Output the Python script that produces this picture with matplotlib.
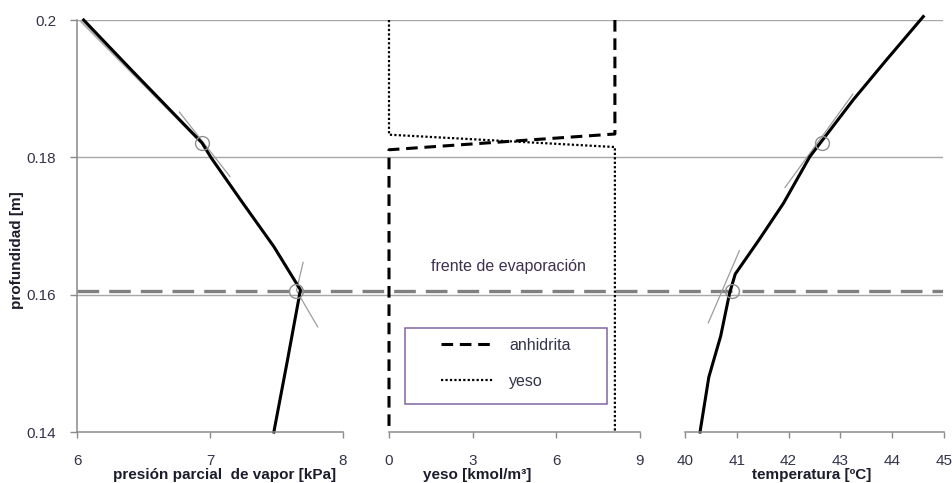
import matplotlib.pyplot as plt
from matplotlib.patches import Rectangle

plt.rcParams['font.family'] = ['Liberation Sans', 'DejaVu Sans']

# eje de profundidad comun
depth_ticks = [0.14, 0.16, 0.18, 0.20]
depth_labels = ['0.14', '0.16', '0.18', '0.2']
grid_levels = [0.16, 0.18, 0.20]
frente = 0.1606

# presion parcial de vapor [kPa]
pv_depth = [0.200, 0.1927, 0.1871, 0.1821, 0.1799, 0.1738, 0.1670, 0.1607, 0.1502, 0.140]
pv_kpa = [6.05, 6.41, 6.69, 6.94, 7.01, 7.23, 7.48, 7.68, 7.58, 7.48]
pv_circ_kpa = [6.94, 7.65]
pv_circ_depth = [0.1821, 0.1606]
pv_tan_a_kpa = [6.02, 6.90]
pv_tan_a_depth = [0.200, 0.1828]
pv_tan_b_kpa = [6.77, 7.15]
pv_tan_b_depth = [0.1866, 0.1772]
pv_tan_c_kpa = [7.70, 7.65, 7.81]
pv_tan_c_depth = [0.1647, 0.1606, 0.1553]

# yeso / anhidrita [kmol/m3]
anh_kmol = [8.1, 8.1, 0.0, 0.0]
anh_depth = [0.200, 0.1834, 0.1811, 0.140]
yeso_kmol = [0.0, 0.0, 8.1, 8.1]
yeso_depth = [0.200, 0.1833, 0.1815, 0.140]

# temperatura [ºC]
t_depth = [0.140, 0.148, 0.154, 0.1602, 0.163, 0.168, 0.1733, 0.1801, 0.1884, 0.1942, 0.2005]
t_c = [40.29, 40.46, 40.69, 40.86, 40.97, 41.43, 41.90, 42.41, 43.25, 43.89, 44.60]
t_circ_c = [42.64, 40.90]
t_circ_depth = [0.1821, 0.1606]
t_tan_a_c = [43.24, 41.93]
t_tan_a_depth = [0.1892, 0.1756]
t_tan_b_c = [41.05, 40.45]
t_tan_b_depth = [0.1664, 0.1559]

txt = '#33334a'
lbl = '#1c1c2c'
axis_grey = '#8a8a8a'
grid_grey = '#a8a8a8'
tan_grey = '#9c9c9c'

fig = plt.figure(figsize=(9.53, 4.83), dpi=100)
W, H = 953, 483


def box(x0, x1):
    return [x0 / W, (H - 432) / H, (x1 - x0) / W, (432 - 20) / H]


# fondo: eje y, lineas de division y frente de evaporacion
bg = fig.add_axes(box(77, 943))
bg.set_ylim(0.14, 0.20)
bg.set_xlim(0, 1)
for s in ['top', 'right', 'bottom']:
    bg.spines[s].set_visible(False)
bg.spines['left'].set_color(axis_grey)
bg.spines['left'].set_linewidth(1.1)
bg.set_xticks([])
bg.set_yticks(depth_ticks)
bg.set_yticklabels(depth_labels)
bg.tick_params(axis='y', length=5, width=1, color=axis_grey, pad=10,
               labelsize=11, labelcolor=txt)
for g in grid_levels:
    bg.axhline(g, color=grid_grey, lw=1.0, zorder=1)
bg.axhline(frente, color='#808080', lw=2.4, dashes=(6.5, 3), zorder=2)


def panel(x0, x1, lim, ticks):
    ax = fig.add_axes(box(x0, x1))
    ax.patch.set_visible(False)
    ax.set_xlim(*lim)
    ax.set_ylim(0.14, 0.20)
    for s in ['top', 'right', 'left']:
        ax.spines[s].set_visible(False)
    ax.spines['bottom'].set_color(axis_grey)
    ax.spines['bottom'].set_linewidth(1.1)
    ax.set_yticks([])
    ax.set_xticks(ticks)
    ax.tick_params(axis='x', length=4, width=1, color=axis_grey, pad=12,
                   labelsize=11, labelcolor=txt)
    return ax


ax1 = panel(77, 343, (6, 8), [6, 7, 8])
ax2 = panel(389, 640, (0, 9), [0, 3, 6, 9])
ax3 = panel(685, 944, (40, 45), [40, 41, 42, 43, 44, 45])

# presion de vapor
ax1.plot(pv_tan_a_kpa, pv_tan_a_depth, color='#b0b0b0', lw=1.6)
ax1.plot(pv_tan_b_kpa, pv_tan_b_depth, color=tan_grey, lw=0.9)
ax1.plot(pv_tan_c_kpa, pv_tan_c_depth, color=tan_grey, lw=0.9)
ax1.plot(pv_kpa, pv_depth, color='black', lw=2.2, clip_on=False)
ax1.plot(pv_circ_kpa, pv_circ_depth, 'o', ms=10, mfc='none', mec='#909090', mew=1)

# yeso y anhidrita
ax2.plot(anh_kmol, anh_depth, color='black', lw=2.2, dashes=(3.8, 2.2),
         label='anhidrita', clip_on=False)
ax2.plot(yeso_kmol, yeso_depth, color='black', lw=1.6, dashes=(1, 1),
         label='yeso', clip_on=False)
ax2.text(4.3, 0.1641, 'frente de evaporación', ha='center', va='center',
         fontsize=11.5, color='#3d3050')
leg = ax2.legend(loc='upper left', bbox_to_anchor=(441 / W, 1 - 338 / H),
                 bbox_transform=fig.transFigure, frameon=False, borderpad=0,
                 borderaxespad=0, handlelength=3.3, handletextpad=0.95,
                 labelspacing=1.3, fontsize=11.5)
for t in leg.get_texts():
    t.set_color(txt)
fig.patches.append(Rectangle((405 / W, 1 - 404 / H), 202 / W, 76 / H,
                             transform=fig.transFigure, fill=False,
                             edgecolor='#8064a2', lw=1.1))

# temperatura
ax3.plot(t_tan_a_c, t_tan_a_depth, color=tan_grey, lw=0.9)
ax3.plot(t_tan_b_c, t_tan_b_depth, color=tan_grey, lw=0.9)
ax3.plot(t_c, t_depth, color='black', lw=2.2, clip_on=False)
ax3.plot(t_circ_c, t_circ_depth, 'o', ms=10, mfc='none', mec='#909090', mew=1)

# titulos de ejes
fig.text(225 / W, 1 - 475 / H, 'presión parcial  de vapor [kPa]', ha='center',
         va='center', fontsize=11, fontweight='bold', color=lbl)
fig.text(477 / W, 1 - 475 / H, 'yeso [kmol/m³]', ha='center', va='center',
         fontsize=11, fontweight='bold', color=lbl)
fig.text(812 / W, 1 - 475 / H, 'temperatura [ºC]', ha='center', va='center',
         fontsize=11, fontweight='bold', color=lbl)
fig.text(17 / W, 1 - 250 / H, 'profundidad [m]', ha='center', va='center',
         rotation=90, fontsize=11, fontweight='bold', color=lbl)

fig.savefig('out.png', dpi=100)
